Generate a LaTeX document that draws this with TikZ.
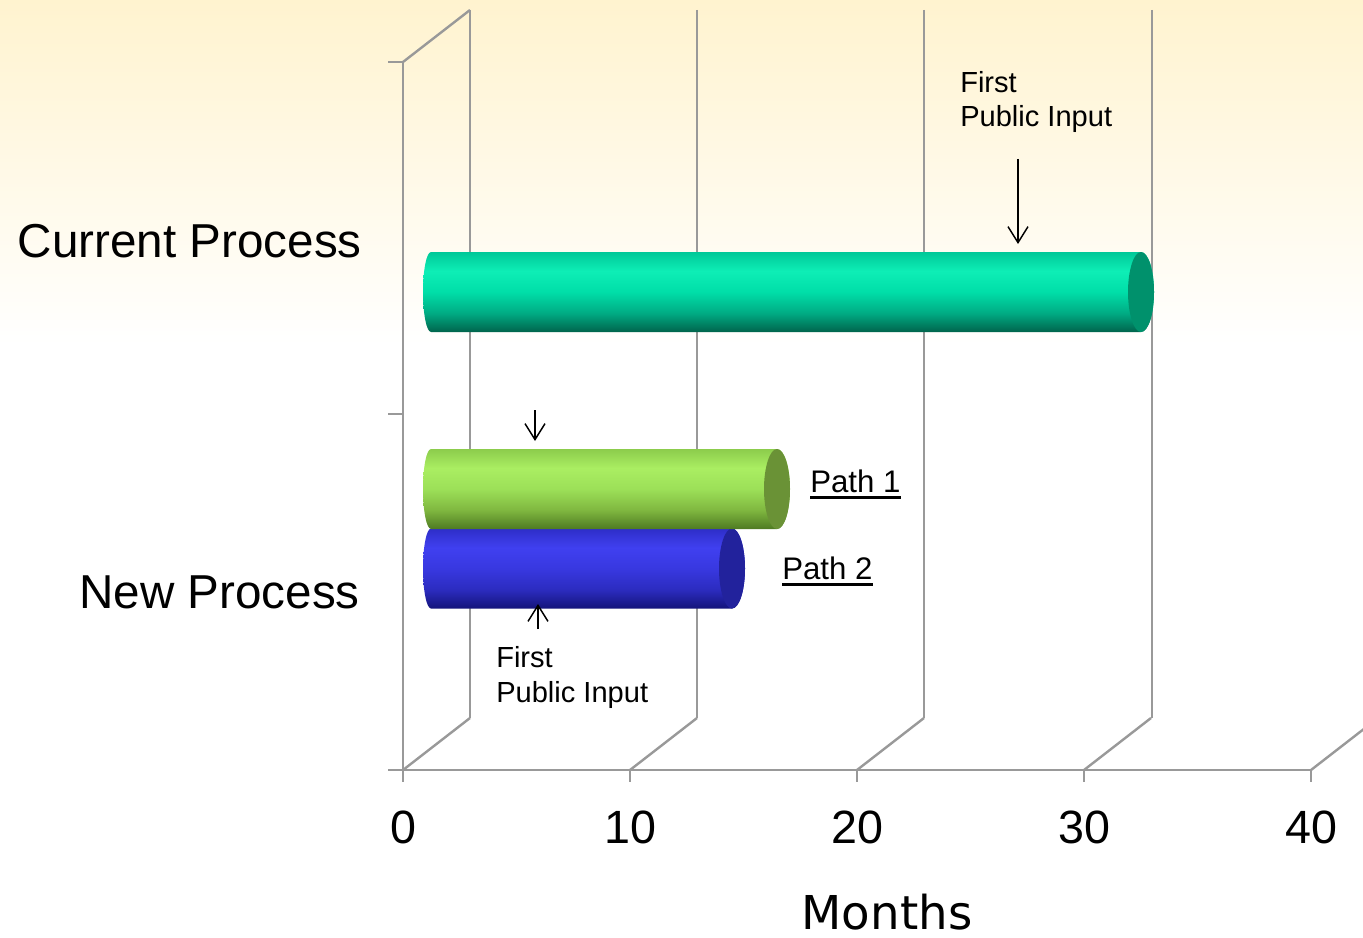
\documentclass[tikz,border=0pt]{standalone}
\usepackage{fontspec}
\setmainfont{Liberation Sans}
\newfontfamily\monthsfont{DejaVu Sans}
\usetikzlibrary{arrows.meta}

\definecolor{bgtop}{RGB}{255,243,207}
\definecolor{axisgray}{RGB}{153,153,153}
% teal
\definecolor{tealT}{RGB}{0,200,152}
\definecolor{tealH}{RGB}{14,238,182}
\definecolor{tealM}{RGB}{0,222,168}
\definecolor{tealL}{RGB}{0,172,132}
\definecolor{tealB}{RGB}{0,100,76}
\definecolor{tealCap}{RGB}{0,145,108}
% green
\definecolor{grnT}{RGB}{140,204,76}
\definecolor{grnH}{RGB}{170,238,98}
\definecolor{grnM}{RGB}{156,224,88}
\definecolor{grnL}{RGB}{128,184,64}
\definecolor{grnB}{RGB}{78,122,34}
\definecolor{grnCap}{RGB}{106,146,54}
% blue
\definecolor{bluT}{RGB}{46,46,200}
\definecolor{bluH}{RGB}{64,64,240}
\definecolor{bluM}{RGB}{56,56,224}
\definecolor{bluL}{RGB}{44,44,192}
\definecolor{bluB}{RGB}{20,20,122}
\definecolor{bluCap}{RGB}{34,34,156}

\pgfdeclareverticalshading{tealcyl}{100bp}{color(0bp)=(tealB); color(25bp)=(tealB); color(37bp)=(tealL); color(50bp)=(tealM); color(63bp)=(tealH); color(75bp)=(tealT); color(100bp)=(tealT)}
\pgfdeclareverticalshading{grncyl}{100bp}{color(0bp)=(grnB); color(25bp)=(grnB); color(37bp)=(grnL); color(50bp)=(grnM); color(63bp)=(grnH); color(75bp)=(grnT); color(100bp)=(grnT)}
\pgfdeclareverticalshading{blucyl}{100bp}{color(0bp)=(bluB); color(25bp)=(bluB); color(37bp)=(bluL); color(50bp)=(bluM); color(63bp)=(bluH); color(75bp)=(bluT); color(100bp)=(bluT)}

\newcommand\mycyl[5]{%
  \shade[shading=#4] (#1+8,#3-40) -- (#2,#3-40)
    arc[start angle=-90,end angle=90,x radius=13,y radius=40]
    -- (#1+8,#3+40)
    arc[start angle=90,end angle=270,x radius=8,y radius=40] -- cycle;
  \fill[#5] (#2,#3) ellipse[x radius=13,y radius=40];
}

\tikzset{
  axisline/.style={draw=axisgray, line width=1.8pt},
  bigcat/.style={font=\fontsize{35.7}{42}\selectfont, inner sep=0pt, anchor=base east},
  ticklbl/.style={font=\fontsize{35}{42}\selectfont, inner sep=0pt, anchor=base},
  note/.style={font=\fontsize{21.8}{26}\selectfont, inner sep=0pt, align=left, anchor=north west},
  pathlbl/.style={font=\fontsize{23.4}{28}\selectfont, inner sep=0pt, anchor=base west},
  ptr/.style={line width=1.1pt, -{Straight Barb[length=12pt,width=15pt,line width=1.1pt]}},
  uline/.style={line width=1.8pt}
}

\begin{document}
\begin{tikzpicture}[x=0.75pt,y=-0.75pt]
\useasboundingbox (0,0) rectangle (1363,938);
% background
\fill[white] (0,0) rectangle (1363,938);
\shade[top color=bgtop, bottom color=white] (0,0) rectangle (1363,345);

% back wall verticals
\foreach \x in {470,697,924,1152}
  \draw[axisline] (\x,10) -- (\x,718);
% left wall
\draw[axisline] (403,62) -- (403,770);
\draw[axisline] (403,62) -- (470,10);
\foreach \y in {62,414,770}
  \draw[axisline] (388,\y) -- (403,\y);
% floor
\draw[axisline] (388,770) -- (1311,770);
\foreach \x in {403,630,857,1084,1311} {
  \draw[axisline] (\x,770) -- (\x+67,718);
  \draw[axisline] (\x,770) -- (\x,782);
}

% cylinders
\mycyl{423}{1141}{292}{tealcyl}{tealCap}
\mycyl{423}{732}{568.5}{blucyl}{bluCap}
\mycyl{423}{777}{489}{grncyl}{grnCap}

% category labels
\node[bigcat] (cur) at (362,257) {Current Process};
\node[bigcat] (new) at (360,608) {New Process};

% tick labels
\node[ticklbl] (t0) at (403,843) {0};
\node[ticklbl] (t10) at (630,843) {10};
\node[ticklbl] (t20) at (857,843) {20};
\node[ticklbl] (t30) at (1084,843) {30};
\node[ticklbl] (t40) at (1311,843) {40};
\node[font=\monthsfont\fontsize{35}{42}\selectfont, inner sep=0pt, anchor=base] (months) at (887,929) {Months};

% notes
\node[note] (fpi1) at (960,71) {First\\Public Input};
\node[note] (fpi2) at (496,646) {First\\Public Input};

% arrows
\coordinate (a1s) at (1018,159);
\coordinate (a1e) at (1018,244);
\draw[ptr] (a1s) -- (a1e);
\coordinate (a2s) at (535,410);
\coordinate (a2e) at (535,441);
\draw[ptr] (a2s) -- (a2e);
\coordinate (a3s) at (538,629);
\coordinate (a3e) at (538,604);
\draw[ptr] (a3s) -- (a3e);

% path labels
\node[pathlbl] (p1) at (810,492) {Path 1};
\draw[uline] ([yshift=-4.2pt]p1.base west) -- ([yshift=-4.2pt]p1.base east);
\node[pathlbl] (p2) at (782,579) {Path 2};
\draw[uline] ([yshift=-4.2pt]p2.base west) -- ([yshift=-4.2pt]p2.base east);
\end{tikzpicture}
\end{document}
